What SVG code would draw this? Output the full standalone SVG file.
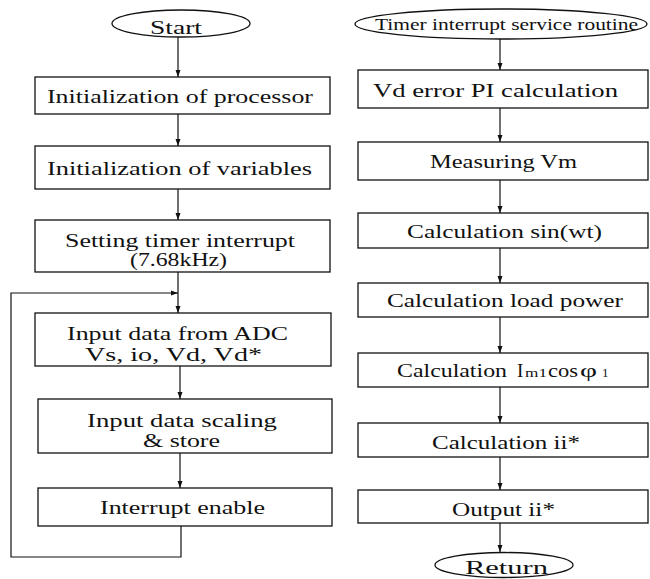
<svg xmlns="http://www.w3.org/2000/svg" width="650" height="579" viewBox="0 0 650 579">
<style>
.b{fill:#fff;stroke:#111;stroke-width:1.3}
.c{fill:none;stroke:#111;stroke-width:1.2}
.t{font-family:"Liberation Serif","Times New Roman",serif;font-size:19px;fill:#111}
.s{font-family:"Liberation Serif","Times New Roman",serif;font-size:16px;fill:#111}
.m{font-family:"Liberation Serif","Times New Roman",serif;font-size:13px;fill:#111}
</style>
<defs>
<marker id="a" markerUnits="userSpaceOnUse" markerWidth="7" markerHeight="6" refX="7" refY="3" orient="auto">
<path d="M0,0.5 L7,3 L0,5.5 z" fill="#111"/>
</marker>
</defs>
<rect width="650" height="579" fill="#fff"/>
<g id="connectors">
<line class="c" x1="178" y1="37" x2="178" y2="77" marker-end="url(#a)"/>
<line class="c" x1="178" y1="114" x2="178" y2="146" marker-end="url(#a)"/>
<line class="c" x1="178" y1="189" x2="178" y2="220" marker-end="url(#a)"/>
<line class="c" x1="178" y1="272" x2="178" y2="313" marker-end="url(#a)"/>
<polyline class="c" points="181,526 181,557 11,557 11,293 178,293" marker-end="url(#a)"/>
<line class="c" x1="180" y1="366" x2="180" y2="399" marker-end="url(#a)"/>
<line class="c" x1="180" y1="453" x2="180" y2="488" marker-end="url(#a)"/>
<line class="c" x1="500" y1="39" x2="500" y2="70" marker-end="url(#a)"/>
<line class="c" x1="500" y1="108" x2="500" y2="142" marker-end="url(#a)"/>
<line class="c" x1="500" y1="180" x2="500" y2="213" marker-end="url(#a)"/>
<line class="c" x1="500" y1="248" x2="500" y2="283" marker-end="url(#a)"/>
<line class="c" x1="500" y1="317" x2="500" y2="353" marker-end="url(#a)"/>
<line class="c" x1="500" y1="387" x2="500" y2="423" marker-end="url(#a)"/>
<line class="c" x1="500" y1="457" x2="500" y2="490" marker-end="url(#a)"/>
<line class="c" x1="500" y1="523" x2="500" y2="552" marker-end="url(#a)"/>
</g>
<g id="start">
<ellipse class="b" cx="181" cy="23.5" rx="69" ry="13.5"/>
<text class="t" x="150" y="34" textLength="52" lengthAdjust="spacingAndGlyphs">Start</text>
</g>
<g id="init-processor">
<rect class="b" x="35" y="77" width="295" height="37"/>
<text class="t" x="47" y="103" textLength="266" lengthAdjust="spacingAndGlyphs">Initialization of processor</text>
</g>
<g id="init-variables">
<rect class="b" x="35" y="146" width="295" height="43"/>
<text class="t" x="47" y="175" textLength="265" lengthAdjust="spacingAndGlyphs">Initialization of variables</text>
</g>
<g id="setting-timer">
<rect class="b" x="35" y="220" width="295" height="52"/>
<text class="t" x="65" y="247" textLength="230" lengthAdjust="spacingAndGlyphs">Setting timer interrupt</text>
<text class="t" x="130" y="266" textLength="97" lengthAdjust="spacingAndGlyphs">(7.68kHz)</text>
</g>
<g id="input-adc">
<rect class="b" x="35" y="313" width="296" height="53"/>
<text class="t" x="67" y="340" textLength="221" lengthAdjust="spacingAndGlyphs">Input data from ADC</text>
<text class="t" x="85" y="361" textLength="177" lengthAdjust="spacingAndGlyphs">Vs, io, Vd, Vd*</text>
</g>
<g id="input-scaling">
<rect class="b" x="38" y="399" width="294" height="54"/>
<text class="t" x="87" y="427" textLength="190" lengthAdjust="spacingAndGlyphs">Input data scaling</text>
<text class="t" x="143" y="447" textLength="77" lengthAdjust="spacingAndGlyphs">&amp; store</text>
</g>
<g id="interrupt-enable">
<rect class="b" x="38" y="488" width="294" height="38"/>
<text class="t" x="100" y="514" textLength="165" lengthAdjust="spacingAndGlyphs">Interrupt enable</text>
</g>
<g id="timer-isr">
<ellipse class="b" cx="501" cy="24" rx="146" ry="15"/>
<text class="s" x="375" y="30" textLength="263" lengthAdjust="spacingAndGlyphs">Timer interrupt service routine</text>
</g>
<g id="vd-error">
<rect class="b" x="358" y="70" width="290" height="38"/>
<text class="t" x="373" y="97" textLength="245" lengthAdjust="spacingAndGlyphs">Vd error PI calculation</text>
</g>
<g id="measuring-vm">
<rect class="b" x="358" y="142" width="290" height="38"/>
<text class="t" x="430" y="168" textLength="147" lengthAdjust="spacingAndGlyphs">Measuring Vm</text>
</g>
<g id="calc-sin">
<rect class="b" x="358" y="213" width="290" height="35"/>
<text class="t" x="407" y="238" textLength="195" lengthAdjust="spacingAndGlyphs">Calculation sin(wt)</text>
</g>
<g id="calc-load">
<rect class="b" x="358" y="283" width="290" height="34"/>
<text class="t" x="387" y="307" textLength="236" lengthAdjust="spacingAndGlyphs">Calculation load power</text>
</g>
<g id="calc-im1">
<rect class="b" x="358" y="353" width="290" height="34"/>
<text class="t" x="397" y="377" textLength="110" lengthAdjust="spacingAndGlyphs">Calculation</text>
<text class="t" x="517" y="377">I</text>
<text class="m" x="525" y="377" textLength="22" lengthAdjust="spacingAndGlyphs">m1</text>
<text class="t" x="548" y="377" textLength="30" lengthAdjust="spacingAndGlyphs">cos</text>
<text class="t" x="580" y="377" textLength="17" lengthAdjust="spacingAndGlyphs">φ</text>
<text class="m" x="602" y="377">1</text>
</g>
<g id="calc-ii">
<rect class="b" x="358" y="423" width="290" height="34"/>
<text class="t" x="432" y="449" textLength="148" lengthAdjust="spacingAndGlyphs">Calculation ii*</text>
</g>
<g id="output-ii">
<rect class="b" x="358" y="490" width="290" height="33"/>
<text class="t" x="452" y="516" textLength="103" lengthAdjust="spacingAndGlyphs">Output ii*</text>
</g>
<g id="return">
<ellipse class="b" cx="504" cy="565" rx="69" ry="12.5"/>
<text class="t" x="465" y="574" textLength="83" lengthAdjust="spacingAndGlyphs">Return</text>
</g>
</svg>
